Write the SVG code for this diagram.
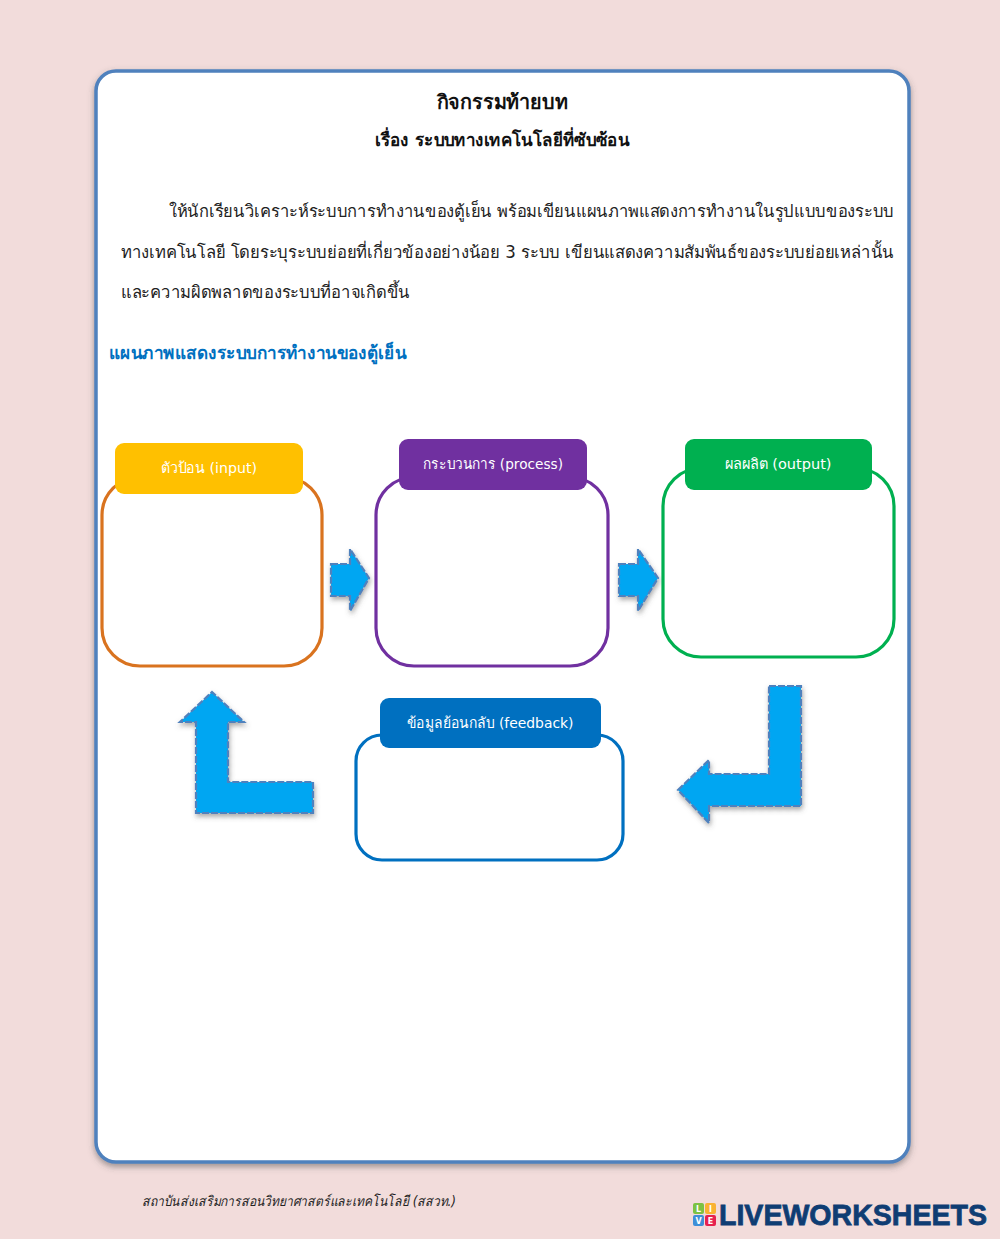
<svg xmlns="http://www.w3.org/2000/svg" width="1000" height="1239" viewBox="0 0 1000 1239">
<style>
text{font-family:"DejaVu Sans","Noto Sans","Liberation Sans",sans-serif}
.t{fill:#222;font-size:17px}
.h{font-weight:bold;fill:#111;text-anchor:middle}
.l{fill:#fff;font-size:14.5px;text-anchor:middle}
.box{fill:#fff;stroke-width:3.2}
.arr{fill:#00a6f2;stroke:#4f81bd;stroke-width:2.2;stroke-dasharray:7 2;filter:url(#s)}
</style>
<defs>
<filter id="s" x="-20%" y="-20%" width="150%" height="150%"><feDropShadow dx="1" dy="3" stdDeviation="2.5" flood-color="#555" flood-opacity=".5"/></filter>
<filter id="s2" x="-5%" y="-5%" width="110%" height="110%"><feDropShadow dx="0" dy="3" stdDeviation="3" flood-color="#444" flood-opacity=".5"/></filter>
</defs>
<rect width="1000" height="1239" fill="#f2dcdb"/>
<g id="page"><rect x="96" y="71" width="813" height="1091" rx="20" fill="#fff" stroke="#4f81bd" stroke-width="3.5" filter="url(#s2)"/></g>
<g id="heading">
<text class="h" x="502" y="109" font-size="20" textLength="131" lengthAdjust="spacingAndGlyphs">กิจกรรมท้ายบท</text>
<text class="h" x="502" y="146" font-size="18" textLength="254" lengthAdjust="spacingAndGlyphs">เรื่อง ระบบทางเทคโนโลยีที่ซับซ้อน</text>
<text class="t" x="169" y="217" textLength="725" lengthAdjust="spacingAndGlyphs">ให้นักเรียนวิเคราะห์ระบบการทำงานของตู้เย็น พร้อมเขียนแผนภาพแสดงการทำงานในรูปแบบของระบบ</text>
<text class="t" x="121" y="258" textLength="773" lengthAdjust="spacingAndGlyphs">ทางเทคโนโลยี โดยระบุระบบย่อยที่เกี่ยวข้องอย่างน้อย 3 ระบบ เขียนแสดงความสัมพันธ์ของระบบย่อยเหล่านั้น</text>
<text class="t" x="121" y="298" textLength="289" lengthAdjust="spacingAndGlyphs">และความผิดพลาดของระบบที่อาจเกิดขึ้น</text>
<text x="109" y="359" font-size="18" font-weight="bold" fill="#0070c0" textLength="297" lengthAdjust="spacingAndGlyphs">แผนภาพแสดงระบบการทำงานของตู้เย็น</text>
</g>
<g id="connectors">
<path class="arr" d="M331 564H350V549L369 578L350 611V596H331Z"/>
<path class="arr" d="M619 564H638V549L658 578L638 611V596H619Z"/>
<path class="arr" d="M313 782V813H196V722H180L212 692L244 722H228V782Z"/>
<path class="arr" d="M769 686H801V806H709V823L678 790L709 760V774H769Z"/>
</g>
<g id="input"><rect class="box" x="102" y="477" width="220" height="189" rx="38" stroke="#d9731f"/><rect x="115" y="443" width="188" height="51" rx="9" fill="#ffc000"/><text class="l" x="209" y="473" textLength="96" lengthAdjust="spacingAndGlyphs">ตัวป้อน (input)</text></g>
<g id="process"><rect class="box" x="376" y="477" width="232" height="189" rx="38" stroke="#7030a0"/><rect x="399" y="439" width="188" height="51" rx="9" fill="#7030a0"/><text class="l" x="493" y="469" textLength="140" lengthAdjust="spacingAndGlyphs">กระบวนการ (process)</text></g>
<g id="output"><rect class="box" x="663" y="468" width="231" height="189" rx="38" stroke="#00b050"/><rect x="685" y="439" width="187" height="51" rx="9" fill="#00b050"/><text class="l" x="778" y="469" textLength="107" lengthAdjust="spacingAndGlyphs">ผลผลิต (output)</text></g>
<g id="feedback"><rect class="box" x="356" y="735" width="267" height="125" rx="26" stroke="#0070c0"/><rect x="380" y="698" width="221" height="50" rx="9" fill="#0070c0"/><text class="l" x="490" y="728" textLength="167" lengthAdjust="spacingAndGlyphs">ข้อมูลย้อนกลับ (feedback)</text></g>
<g id="footer">
<text x="142" y="1206" font-size="14" font-style="italic" fill="#222" textLength="314" lengthAdjust="spacingAndGlyphs">สถาบันส่งเสริมการสอนวิทยาศาสตร์และเทคโนโลยี (สสวท.)</text>
<g font-size="8" font-weight="bold" fill="#fff" text-anchor="middle">
<rect x="693" y="1203" width="11" height="11" rx="2" fill="#7cc243"/><text x="698.500" y="1212">L</text>
<rect x="705" y="1203" width="11" height="11" rx="2" fill="#f9b233"/><text x="710.500" y="1212">I</text>
<rect x="693" y="1215" width="11" height="11" rx="2" fill="#3f8fd8"/><text x="698.500" y="1224">V</text>
<rect x="705" y="1215" width="11" height="11" rx="2" fill="#e6224f"/><text x="710.500" y="1224">E</text>
</g>
<text x="719" y="1225" font-size="30" font-weight="bold" fill="#0f3d73" stroke="#0f3d73" stroke-width=".8" style="font-family:'Liberation Sans',sans-serif" textLength="268" lengthAdjust="spacingAndGlyphs">LIVEWORKSHEETS</text>
</g>
</svg>
